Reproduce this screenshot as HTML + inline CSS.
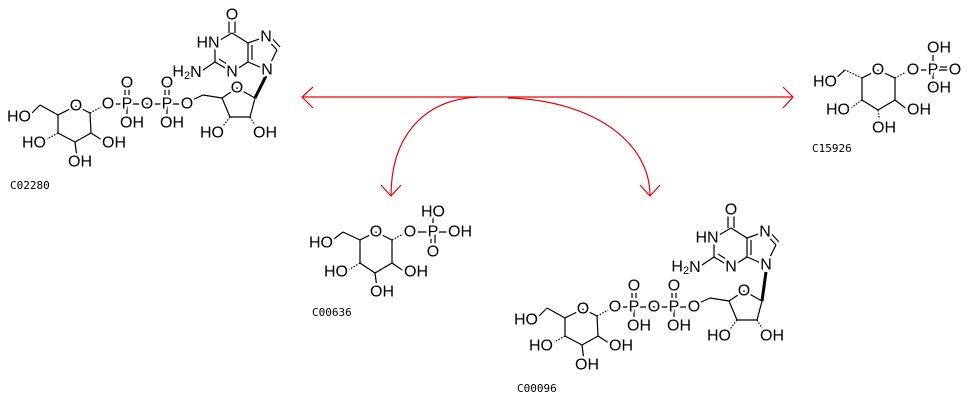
<!DOCTYPE html>
<html><head><meta charset="utf-8"><style>
html,body{margin:0;padding:0;background:#fff;width:969px;height:401px;overflow:hidden}
svg{display:block}
.halo{stroke:#fff;stroke-width:5px;fill:#fff;stroke-linejoin:round}
.blk{fill:#000;stroke:none}
.b line,.b polyline{stroke:#000;stroke-width:1.2;fill:none}
.r{stroke:#e00;stroke-width:1.2;fill:none}
</style></head><body>
<svg width="969" height="401" viewBox="0 0 969 401" xmlns="http://www.w3.org/2000/svg">
<defs>
<g id="gdpB" class="b">
  <polyline points="76,106 58,115 58,133 75,142 91,133 90,113 76,106"/>
  <line x1="58" y1="115" x2="40" y2="105"/>
  <line x1="40" y1="105" x2="28" y2="117"/>
  <line x1="58" y1="133" x2="42" y2="142" stroke-dasharray="1.5,1.5"/>
  <line x1="75" y1="142" x2="77" y2="158"/>
  <line x1="91" y1="133" x2="105" y2="142" stroke-width="2.5"/>
  <line x1="90" y1="113" x2="105" y2="105" stroke-dasharray="1.5,1.5"/>
  <line x1="110" y1="104" x2="185" y2="104"/>
  <line x1="125" y1="86" x2="125" y2="104"/><line x1="129" y1="86" x2="129" y2="104"/>
  <line x1="127" y1="104" x2="127" y2="118"/>
  <line x1="165" y1="86" x2="165" y2="104"/><line x1="169" y1="86" x2="169" y2="104"/>
  <line x1="167" y1="104" x2="167" y2="118"/>
  <line x1="190" y1="101" x2="203" y2="95"/>
  <line x1="203" y1="95" x2="222" y2="98" stroke-width="2.5"/>
  <polyline points="222,98 237,88 255,98 250,117 230,117 222,98"/>
  <line x1="230" y1="117" x2="220" y2="130" stroke-dasharray="1.5,1.5"/>
  <line x1="250" y1="117" x2="258" y2="130" stroke-dasharray="1.5,1.5"/>
</g>
<g id="gdpT" font-family="Liberation Sans, sans-serif" font-size="16" text-anchor="middle" dominant-baseline="central">
 <text x="76" y="106">O</text>
 <text x="19" y="117">HO</text>
 <text x="34" y="143">HO</text>
 <text x="80" y="162">OH</text>
 <text x="114" y="143">OH</text>
 <text x="108" y="104">O</text>
 <text x="127" y="104">P</text>
 <text x="127" y="83">O</text>
 <text x="132" y="123">OH</text>
 <text x="147" y="104">O</text>
 <text x="167" y="104">P</text>
 <text x="167" y="83">O</text>
 <text x="172" y="123">OH</text>
 <text x="187" y="104">O</text>
 <text x="237" y="88">O</text>
 <text x="212" y="133">HO</text>
 <text x="265" y="133">OH</text>
</g>
<g id="baseB" class="b">
   <polyline points="232,33 248,43 248,62 232,72 215,62 215,43 232,33"/>
   <line x1="229" y1="33" x2="229" y2="17"/><line x1="235" y1="33" x2="235" y2="17"/>
   <line x1="252" y1="45" x2="252" y2="60"/>
   <line x1="219" y1="59" x2="230" y2="66"/>
   <line x1="248" y1="43" x2="265" y2="37"/>
   <line x1="265" y1="37" x2="277" y2="50"/><line x1="268" y1="34" x2="280" y2="47"/>
   <line x1="277" y1="50" x2="267" y2="70"/>
   <line x1="248" y1="62" x2="267" y2="70"/>
   <line x1="215" y1="62" x2="200" y2="72"/>
</g>
<g id="baseT" font-family="Liberation Sans, sans-serif" font-size="16" text-anchor="middle" dominant-baseline="central">
  <text x="232" y="15">O</text>
  <text x="208" y="43">HN</text>
  <text x="232" y="72">N</text>
  <text x="266" y="37">N</text>
  <text x="267" y="70">N</text>
  <text x="187" y="72">H<tspan font-size="11" dy="4">2</tspan><tspan dy="-4">N</tspan></text>
</g>
<g id="g1pB" class="b">
  <polyline points="376,232 360,240 360,263 375,273 392,263 392,240 376,232"/>
  <line x1="360" y1="240" x2="343" y2="232" stroke-width="2.5"/>
  <line x1="343" y1="232" x2="330" y2="242"/>
  <line x1="360" y1="263" x2="345" y2="272" stroke-dasharray="1.5,1.5"/>
  <line x1="375" y1="273" x2="377" y2="288" stroke-width="2.5"/>
  <line x1="392" y1="263" x2="405" y2="272" stroke-width="2.5"/>
  <line x1="392" y1="240" x2="407" y2="232" stroke-dasharray="1.5,1.5"/>
  <line x1="412" y1="232" x2="452" y2="232"/>
  <line x1="433" y1="216" x2="433" y2="232"/>
  <line x1="431" y1="232" x2="431" y2="248"/><line x1="435" y1="232" x2="435" y2="248"/>
</g>
<g id="g1pT" font-family="Liberation Sans, sans-serif" font-size="16" text-anchor="middle" dominant-baseline="central">
 <text x="376" y="232">O</text>
 <text x="321" y="243">HO</text>
 <text x="336" y="272">HO</text>
 <text x="382" y="292">OH</text>
 <text x="416" y="272">OH</text>
 <text x="410" y="232">O</text>
 <text x="433" y="232">P</text>
 <text x="433" y="212">HO</text>
 <text x="460" y="232">OH</text>
 <text x="433" y="252">O</text>
</g>
<g id="c15B" class="b">
 <polyline points="878,70 862,78 862,100 878,110 895,100 895,78 878,70"/>
 <line x1="862" y1="78" x2="845" y2="70" stroke-dasharray="1.5,1.5"/>
 <line x1="845" y1="70" x2="834" y2="80"/>
 <line x1="862" y1="100" x2="848" y2="110" stroke-dasharray="1.5,1.5"/>
 <line x1="878" y1="110" x2="880" y2="124" stroke-dasharray="1.5,1.5"/>
 <line x1="895" y1="100" x2="908" y2="110" stroke-width="2.5"/>
 <line x1="895" y1="78" x2="910" y2="70" stroke-dasharray="1.5,1.5"/>
 <line x1="915" y1="70" x2="950" y2="70"/>
 <line x1="933" y1="52" x2="933" y2="86"/>
 <line x1="933" y1="67" x2="948" y2="67"/>
</g>
<g id="c15T" font-family="Liberation Sans, sans-serif" font-size="16" text-anchor="middle" dominant-baseline="central">
<text x="878" y="70">O</text>
<text x="825" y="82">HO</text>
<text x="838" y="110">HO</text>
<text x="884" y="128">OH</text>
<text x="919" y="110">OH</text>
<text x="913" y="70">O</text>
<text x="933" y="70">P</text>
<text x="939" y="48">OH</text>
<text x="955" y="70">O</text>
<text x="939" y="88">OH</text>
</g>
</defs>

<line class="r" x1="302" y1="97" x2="793" y2="97"/>
<polyline class="r" points="313,87 302,97 313,108"/>
<polyline class="r" points="783,87 793,97 783,108"/>
<path class="r" d="M478,97 C420,100 391,140 391,196"/>
<polyline class="r" points="381,185 391,196 401,185"/>
<path class="r" d="M508,98 C590,100 650,140 650,196"/>
<polyline class="r" points="640,185 650,196 660,185"/>

<g font-family="DejaVu Sans Mono, monospace" font-size="11" fill="#000">
<text x="10" y="189">C02280</text>
<text x="517" y="392">C00096</text>
<text x="312" y="316">C00636</text>
<text x="812" y="152">C15926</text>
</g>

<line x1="255" y1="98" x2="266" y2="76" stroke="#000" stroke-width="3"/>
<use href="#gdpB"/><use href="#baseB"/>
<use href="#gdpT" class="halo"/><use href="#baseT" class="halo"/>
<use href="#gdpT" class="blk"/><use href="#baseT" class="blk"/>

<line x1="762" y1="301" x2="766" y2="272" stroke="#000" stroke-width="3"/>
<use href="#gdpB" transform="translate(507,203)"/>
<use href="#baseB" transform="translate(499,195)"/>
<use href="#gdpT" class="halo" transform="translate(507,203)"/>
<use href="#baseT" class="halo" transform="translate(499,195)"/>
<use href="#gdpT" class="blk" transform="translate(507,203)"/>
<use href="#baseT" class="blk" transform="translate(499,195)"/>

<use href="#g1pB"/><use href="#g1pT" class="halo"/><use href="#g1pT" class="blk"/>

<use href="#c15B"/><use href="#c15T" class="halo"/><use href="#c15T" class="blk"/>
</svg>
</body></html>
